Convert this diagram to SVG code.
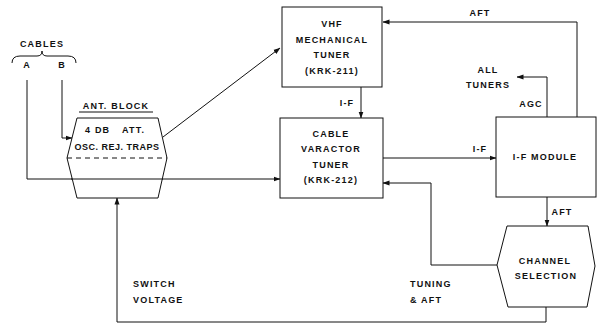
<svg xmlns="http://www.w3.org/2000/svg" width="597" height="324" viewBox="0 0 597 324">
<style>
text{font-family:"Liberation Sans",Arial,sans-serif;font-weight:bold;font-size:9px;letter-spacing:1.2px;fill:#111;text-anchor:middle}
.l{text-anchor:start}
.box{fill:#fff;stroke:#111;stroke-width:1}
.ln{fill:none;stroke:#111;stroke-width:1}
.dash{fill:none;stroke:#111;stroke-width:1;stroke-dasharray:5 4}
</style>
<defs>
<marker id="ar" markerUnits="userSpaceOnUse" markerWidth="7" markerHeight="6" refX="6.5" refY="3" orient="auto">
<path d="M0,0.5 L7,3 L0,5.5 Z" fill="#111"/>
</marker>
</defs>
<rect width="597" height="324" fill="#fff"/>

<g id="connectors">
<path class="ln" d="M27,80 V179 H280" marker-end="url(#ar)"/>
<path class="ln" d="M62,80 V138 H72" marker-end="url(#ar)"/>
<path class="ln" d="M163,137 L280,48" marker-end="url(#ar)"/>
<path class="ln" d="M361,87 V118" marker-end="url(#ar)"/>
<text x="347" y="106">I-F</text>
<path class="ln" d="M577,117 V22 H383" marker-end="url(#ar)"/>
<text x="480" y="16">AFT</text>
<path class="ln" d="M547,117 V77 H517" marker-end="url(#ar)"/>
<text x="488" y="73">ALL</text>
<text x="488" y="88">TUNERS</text>
<text x="531" y="107">AGC</text>
<path class="ln" d="M383,158 H496" marker-end="url(#ar)"/>
<text x="480" y="152">I-F</text>
<path class="ln" d="M547,197 V226" marker-end="url(#ar)"/>
<text x="562" y="215">AFT</text>
<path class="ln" d="M497,265 H431 V183 H383" marker-end="url(#ar)"/>
<text class="l" x="410" y="287">TUNING</text>
<text class="l" x="410" y="303">&amp; AFT</text>
<path class="ln" d="M546,307 V322 H117 V198" marker-end="url(#ar)"/>
<text class="l" x="133" y="287">SWITCH</text>
<text class="l" x="133" y="303">VOLTAGE</text>
</g>

<g id="cables">
<text x="42" y="47">CABLES</text>
<path class="ln" d="M12,63 Q12,56 20,56 L37,56 Q42,56 42,51 Q42,56 47,56 L68,56 Q76,56 76,63"/>
<text x="27" y="68">A</text>
<text x="62" y="68">B</text>
</g>

<g id="ant-block">
<text x="116" y="109">ANT. BLOCK</text>
<line class="ln" x1="79" y1="112" x2="153" y2="112"/>
<path class="box" d="M77,118 H158 L167,158 L158,198 H77 L67,158 Z"/>
<line class="dash" x1="67" y1="158" x2="167" y2="158"/>
<line class="ln" x1="71" y1="179" x2="163" y2="179"/>
<text class="l" x="85" y="133">4 DB</text>
<text class="l" x="122" y="133">ATT.</text>
<text x="117" y="150" style="letter-spacing:0.5px">OSC. REJ. TRAPS</text>
</g>

<g id="vhf-tuner">
<rect class="box" x="282" y="7" width="100" height="80"/>
<text x="332" y="27">VHF</text>
<text x="332" y="43">MECHANICAL</text>
<text x="332" y="58">TUNER</text>
<text x="332" y="74">(KRK-211)</text>
</g>

<g id="varactor-tuner">
<rect class="box" x="280" y="118" width="103" height="80"/>
<text x="331" y="137">CABLE</text>
<text x="331" y="152">VARACTOR</text>
<text x="331" y="168">TUNER</text>
<text x="331" y="183">(KRK-212)</text>
</g>

<g id="if-module">
<rect class="box" x="496" y="117" width="100" height="80"/>
<text x="545" y="160">I-F MODULE</text>
</g>

<g id="channel-selection">
<path class="box" d="M507,226 H588 L595,266 L587,307 H508 L497,265 Z"/>
<text x="545" y="264">CHANNEL</text>
<text x="546" y="279">SELECTION</text>
</g>
</svg>
